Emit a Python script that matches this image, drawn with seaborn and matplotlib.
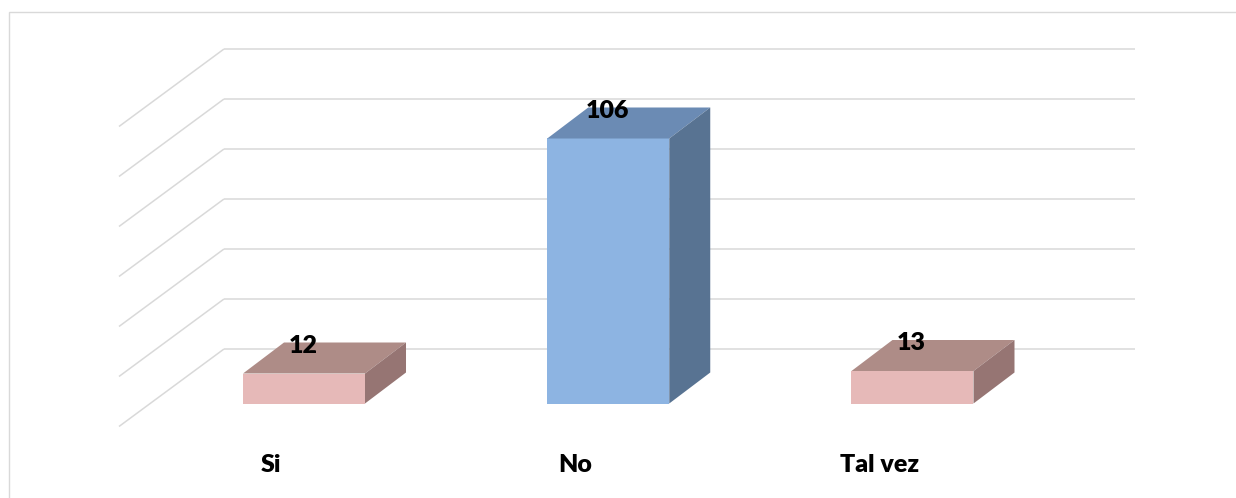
import matplotlib
matplotlib.use("Agg")
import matplotlib.pyplot as plt
from matplotlib.patches import Polygon, Rectangle
import seaborn as sns
import numpy as np

# ---- data ----
categories = ["Si", "No", "Tal vez"]
values = [12, 106, 13]
grid_values = [0, 20, 40, 60, 80, 100, 120]

# ---- style ----
front_colors = ["#E6B9B8", "#8DB4E2", "#E6B9B8"]
top_colors = ["#AE8C87", "#6B8BB4", "#AE8C87"]
side_colors = ["#967573", "#587392", "#967573"]
grid_color = "#D9D9D9"

sns.set_style("white")
plt.rcParams["font.family"] = ["Lato", "DejaVu Sans"]

W, H, DPI = 1236, 498, 100
fig = plt.figure(figsize=(W / DPI, H / DPI), dpi=DPI)
ax = fig.add_axes([0, 0, 1, 1])

sns.barplot(x=categories, y=values, hue=categories, palette=front_colors,
            saturation=1, width=0.401, linewidth=0, legend=False, ax=ax, zorder=3)

ax.set_xlim(-0.9992, 3.0633)
ax.set_ylim(-37.8, 161.4)
ax.axis("off")

inv = ax.transData.inverted()
def px(dx, dy):
    a = inv.transform((0, 0))
    b = inv.transform((dx, dy))
    return b[0] - a[0], b[1] - a[1]

# bar depth offset (pixels)
ddx, ddy = px(41, 31)
# back wall and front edge offsets (pixels)
_, back_dy = px(0, 54.5)
front_dx, front_dy = px(-105, -23)
wall_left, wall_right = -0.263, 2.731

for v in grid_values:
    yb = v + back_dy
    ax.plot([wall_left, wall_right], [yb, yb], color=grid_color, lw=1.1, zorder=1,
            solid_capstyle="butt")
    ax.plot([wall_left, wall_left + front_dx],
            [yb, v + front_dy], color=grid_color, lw=1.1, zorder=1,
            solid_capstyle="butt")

# 3D faces
for i, p in enumerate(ax.patches):
    x0 = p.get_x()
    x1 = x0 + p.get_width()
    h = p.get_height()
    top = Polygon([(x0, h), (x1, h), (x1 + ddx, h + ddy), (x0 + ddx, h + ddy)],
                  closed=True, facecolor=top_colors[i], edgecolor="none", zorder=3)
    side = Polygon([(x1, 0), (x1 + ddx, ddy), (x1 + ddx, h + ddy), (x1, h)],
                   closed=True, facecolor=side_colors[i], edgecolor="none", zorder=3)
    ax.add_patch(top)
    ax.add_patch(side)
    ax.annotate(str(values[i]), (i, h), xytext=(-1, 28), textcoords="offset pixels",
                ha="center", va="center", fontsize=18, fontweight="heavy",
                color="black", zorder=5)
    ax.annotate(categories[i], (i, 0), xytext=(-33, -61), textcoords="offset pixels",
                ha="center", va="center", fontsize=18, fontweight="heavy",
                color="black", zorder=5)

# chart frame
fig.add_artist(Rectangle((8.5 / W, -0.1), 1.2, (H - 12.5) / H + 0.1,
                         transform=fig.transFigure, fill=False,
                         edgecolor=grid_color, lw=1.0))

fig.savefig("out.png", dpi=DPI, facecolor="white")
